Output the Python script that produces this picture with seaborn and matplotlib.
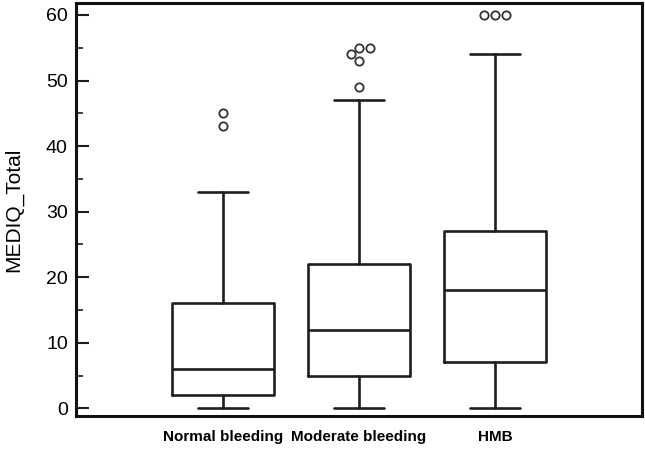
import numpy as np
import pandas as pd
import matplotlib
matplotlib.use("Agg")
import matplotlib.pyplot as plt
import seaborn as sns

# summary values
groups = ["Normal bleeding", "Moderate bleeding", "HMB"]
whisker_low = [0, 0, 0]
q1 = [2, 5, 7]
median = [6, 12, 18]
q3 = [16, 22, 27]
whisker_high = [33, 47, 54]
outliers = [[43, 45], [49, 53, 54, 55, 55], [60, 60, 60]]

sns.set_style("ticks")
plt.rcParams["font.family"] = ["Liberation Sans", "DejaVu Sans"]
plt.rcParams["text.color"] = "black"
plt.rcParams["axes.labelcolor"] = "black"
plt.rcParams["xtick.labelcolor"] = "black"
plt.rcParams["ytick.labelcolor"] = "black"

fig = plt.figure(figsize=(6.45, 4.5), dpi=100)
ax = fig.add_axes([0.118, 0.075, 0.877, 0.918])

line_col = "#1e1e1e"
stats = []
for i, g in enumerate(groups):
    stats.append(dict(label=g, whislo=whisker_low[i], q1=q1[i], med=median[i],
                      q3=q3[i], whishi=whisker_high[i], fliers=[]))

lw = 1.9
ax.bxp(stats, positions=range(len(groups)), widths=0.75, capwidths=0.37,
       showfliers=False, patch_artist=False,
       boxprops=dict(color=line_col, linewidth=lw),
       medianprops=dict(color=line_col, linewidth=lw),
       whiskerprops=dict(color=line_col, linewidth=lw),
       capprops=dict(color=line_col, linewidth=lw))

# outliers as a swarm so tied values sit side by side
out_df = pd.DataFrame([(g, v) for g, vals in zip(groups, outliers) for v in vals],
                      columns=["group", "MEDIQ_Total"])
sns.swarmplot(data=out_df, x="group", y="MEDIQ_Total", order=groups, ax=ax,
              color="white", edgecolor="#333333", linewidth=1.3, size=6,
              native_scale=False)

ax.set_xlim(-1.08, 3.08)
ax.set_ylim(-1.2, 61.8)
ax.set_yticks(np.arange(0, 61, 10))
ax.set_yticks(np.arange(5, 61, 10), minor=True)
ax.set_xticks(range(len(groups)))
ax.set_xticklabels(groups, fontsize=11, fontweight="bold")
ax.tick_params(axis="y", which="major", direction="in", length=9, width=1.5,
               labelsize=14, pad=6, color=line_col)
ax.tick_params(axis="y", which="minor", direction="in", length=5, width=1.2,
               color=line_col)
ax.tick_params(axis="x", length=0, pad=10)
ax.set_xlabel("")
ax.set_ylabel("MEDIQ_Total", fontsize=15, labelpad=16)
for s in ax.spines.values():
    s.set_linewidth(2.2)
    s.set_color("#111111")

fig.savefig("out.png", dpi=100)
